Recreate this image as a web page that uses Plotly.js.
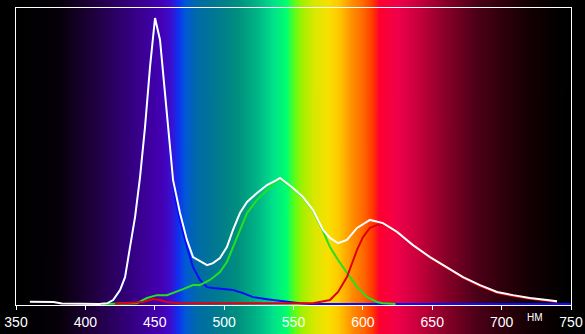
<!DOCTYPE html>
<html>
<head>
<meta charset="utf-8">
<script src="https://cdn.plot.ly/plotly-3.0.1.min.js"></script>
<style>html,body{margin:0;padding:0;background:#000;}#chart{width:585px;height:334px;}</style>
</head>
<body>
<div id="chart"></div>
<script>
// ---- data (wavelength in nm, relative intensity) ----
const tickValues = [350, 400, 450, 500, 550, 600, 650, 700, 750];
const unitLabel = "НМ";

const whiteX = [360, 368, 377, 383, 396, 410, 416, 420, 425, 428.6, 432.2, 435.8, 439.4, 443, 446.6, 450.2, 453.8, 457.4, 461, 463.2, 468.2, 473.2, 477.6, 482.6, 487.7, 492, 497, 502, 506.4, 511.4, 516.5, 523.7, 530.9, 538.1, 540.3, 549.6, 556.8, 564, 571.3, 576.3, 582.1, 588.5, 595.8, 605.1, 614.5, 624.6, 636.1, 648.4, 660.6, 672.2, 684.4, 696.7, 708.2, 720.4, 732.7, 739.9];
const whiteY = [0.008, 0.008, 0.007, 0.002, 0.0, 0.0, 0.003, 0.014, 0.049, 0.094, 0.2, 0.304, 0.444, 0.619, 0.829, 1.0, 0.923, 0.738, 0.563, 0.434, 0.318, 0.224, 0.164, 0.15, 0.136, 0.143, 0.161, 0.199, 0.259, 0.318, 0.357, 0.388, 0.416, 0.434, 0.441, 0.406, 0.374, 0.329, 0.259, 0.231, 0.213, 0.224, 0.266, 0.294, 0.283, 0.252, 0.206, 0.164, 0.129, 0.094, 0.066, 0.042, 0.031, 0.021, 0.014, 0.010];

const blueX = [412, 416, 420, 425, 428.6, 432.2, 435.8, 439.4, 443, 446.6, 450.2, 453.8, 457.4, 461, 464.5, 468.2, 473.2, 477.6, 482.6, 487.7, 492, 502, 506.4, 513.6, 520.8, 530.9, 545.3, 554.7, 562, 600, 650, 700, 750];
const blueY = [0.0, 0.002, 0.012, 0.047, 0.092, 0.198, 0.302, 0.442, 0.617, 0.826, 0.995, 0.915, 0.72, 0.53, 0.374, 0.294, 0.199, 0.129, 0.084, 0.059, 0.056, 0.052, 0.049, 0.038, 0.024, 0.017, 0.007, 0.003, 0.0, 0.0, 0.0, 0.0, 0.0];

const greenX = [412.7, 428.6, 437.2, 444.4, 451.6, 458.8, 463.2, 470.4, 477.6, 482.6, 489.8, 497, 502, 506.4, 511.4, 516.5, 523.7, 530.9, 538.1, 540.3, 549.6, 556.8, 564, 571.3, 576.3, 582.1, 588.5, 595.8, 603, 610.2, 614.5, 623.5];
const greenY = [0.0, 0.003, 0.003, 0.021, 0.031, 0.031, 0.038, 0.052, 0.066, 0.066, 0.084, 0.112, 0.147, 0.199, 0.259, 0.318, 0.364, 0.399, 0.432, 0.436, 0.404, 0.372, 0.327, 0.255, 0.199, 0.154, 0.108, 0.059, 0.024, 0.007, 0.003, 0.0];

const redX = [421.4, 427.1, 441.5, 448.7, 453.8, 458.8, 468.2, 482.6, 520, 554.7, 564, 576.3, 582.1, 588.5, 592.2, 595.8, 600.1, 605.1, 610.2, 614.5, 624.6, 636.1, 648.4, 660.6, 672.2, 684.4, 696.7, 708.2, 720.4, 732.7, 739.9];
const redY = [0.0, 0.003, 0.007, 0.017, 0.014, 0.007, 0.003, 0.003, 0.002, 0.002, 0.003, 0.014, 0.042, 0.094, 0.143, 0.189, 0.234, 0.266, 0.276, 0.28, 0.249, 0.203, 0.161, 0.126, 0.091, 0.063, 0.039, 0.028, 0.018, 0.011, 0.007];

// ---- spectrum background (style only) ----
const specStops = [
  [350, '#000000'], [380, '#050008'], [400, '#1a0030'], [420, '#2a0060'], [440, '#3a0090'],
  [455, '#4400b4'], [462, '#3a10d0'], [467, '#1030f0'], [472, '#0058d8'], [480, '#006aa8'],
  [495, '#007a90'], [510, '#00907e'], [525, '#00b887'], [535, '#00e08a'], [545, '#00ff70'],
  [550, '#50ff20'], [556, '#a0f000'], [565, '#d8e800'], [575, '#f8e000'], [583, '#ffc800'],
  [592, '#ff9000'], [600, '#ff6a00'], [607, '#ff3a00'], [612, '#ff0030'], [625, '#f0004a'],
  [640, '#c8003c'], [660, '#880028'], [680, '#50001a'], [700, '#30000c'], [720, '#140004'],
  [740, '#040000'], [750, '#000000']
];
const cv = document.createElement('canvas');
cv.width = 800; cv.height = 2;
const ctx = cv.getContext('2d');
const grad = ctx.createLinearGradient(0, 0, 800, 0);
specStops.forEach(s => grad.addColorStop((s[0] - 350) / 400, s[1]));
ctx.fillStyle = grad;
ctx.fillRect(0, 0, 800, 2);
const bgURL = cv.toDataURL('image/png');

const W = 585, H = 334, mL = 16, mR = 14, mT = 8, mB = 29;
const plotH = H - mT - mB;

function line(x, y, color, width) {
  return {x: x, y: y, type: 'scatter', mode: 'lines', line: {color: color, width: width}, hoverinfo: 'skip', showlegend: false};
}

const traces = [
  line(blueX, blueY, '#0a0aff', 2),
  line(greenX, greenY, '#22e022', 2),
  line(redX, redY, '#e00010', 2),
  line(whiteX, whiteY, '#ffffff', 2)
];

const layout = {
  width: W, height: H,
  margin: {l: mL, r: mR, t: mT, b: mB, pad: 0},
  paper_bgcolor: '#000000',
  plot_bgcolor: 'rgba(0,0,0,0)',
  showlegend: false,
  font: {family: 'Liberation Sans Narrow, Arial Narrow, Liberation Sans, Arial, sans-serif', color: '#ffffff', size: 14},
  xaxis: {
    range: [350, 750], tickmode: 'array', tickvals: tickValues,
    ticktext: tickValues.map(String),
    ticks: 'outside', ticklen: 4, tickwidth: 1, tickcolor: '#ffffff',
    showline: true, linecolor: '#ffffff', linewidth: 1, mirror: true,
    showgrid: false, zeroline: false, fixedrange: true,
    tickfont: {size: 14, color: '#ffffff'}
  },
  yaxis: {
    range: [-0.0035, 1.035], showticklabels: false, ticks: '',
    showline: true, linecolor: '#ffffff', linewidth: 1, mirror: true,
    showgrid: false, zeroline: false, fixedrange: true
  },
  images: [{
    source: bgURL, xref: 'paper', yref: 'paper',
    x: 0, y: 1 + mT / plotH, sizex: 1, sizey: H / plotH,
    xanchor: 'left', yanchor: 'top', sizing: 'stretch', layer: 'below'
  }],
  annotations: [{
    text: unitLabel, xref: 'x', yref: 'paper', x: 724, y: -12 / plotH,
    xanchor: 'center', yanchor: 'middle', showarrow: false,
    font: {size: 10, color: '#ffffff', family: 'Liberation Sans, Arial, sans-serif'}
  }]
};

Plotly.newPlot('chart', traces, layout, {staticPlot: true, displayModeBar: false});
</script>
</body>
</html>
